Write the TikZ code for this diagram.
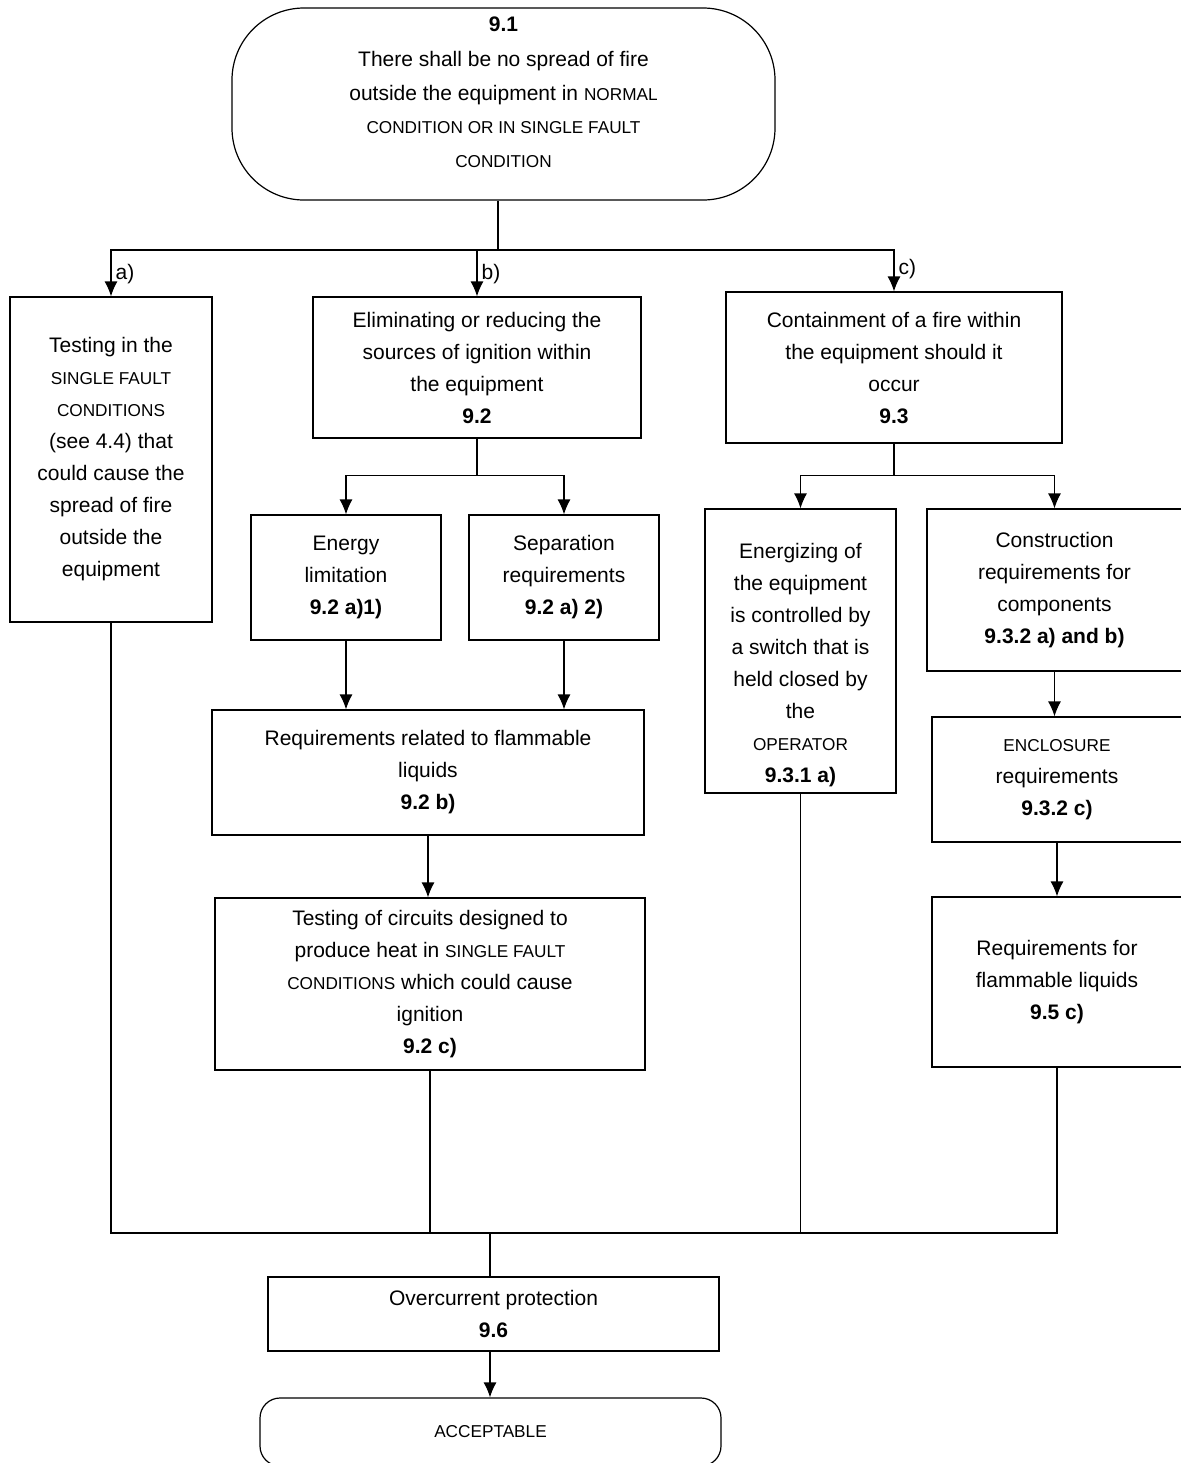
\documentclass[tikz,border=0pt]{standalone}
\usepackage{fontspec}
\setmainfont{Liberation Sans}
\usepackage{tikz}
\usetikzlibrary{arrows.meta,calc}
\tikzset{>={Latex[length=7.5pt,width=6.5pt]}}
\newcommand{\capsz}[1]{{\fontsize{8.6}{16}\selectfont #1}}

\begin{document}
\begin{tikzpicture}[x=0.5pt,y=-0.5pt, line width=0.6pt,
    box/.style={draw, line width=0.6pt, align=center, inner sep=0pt,
                font=\fontsize{10.5}{16}\selectfont},
    rbox/.style={box, rounded corners=#1},
    lbl/.style={font=\fontsize{10.5}{12}\selectfont, inner sep=1pt}]
\useasboundingbox (0,0) rectangle (1181,1463);

% start
\node[rbox=36pt, minimum width=271.5pt, minimum height=96pt,
      font=\fontsize{10.5}{16.8}\selectfont] (top) at (503.5,104)
  {\textbf{9.1}\\[1pt]
   There shall be no spread of fire\\
   outside the equipment in \capsz{NORMAL}\\
   \capsz{CONDITION OR IN SINGLE FAULT}\\
   \capsz{CONDITION}\rule[-12pt]{0pt}{12pt}};

% three ways
\node[box, minimum width=101pt, minimum height=162.5pt] (tstA) at (111,459.5)
  {Testing in the\\ \capsz{SINGLE FAULT}\\ \capsz{CONDITIONS}\\ (see 4.4) that\\
   could cause the\\ spread of fire\\ outside the\\ equipment};
\node[box, minimum width=164pt, minimum height=70.5pt] (elim) at (477,367.5)
  {Eliminating or reducing the\\ sources of ignition within\\ the equipment\\ \textbf{9.2}};
\node[box, minimum width=168pt, minimum height=75.5pt] (cont) at (894,367.5)
  {Containment of a fire within\\ the equipment should it\\ occur\\ \textbf{9.3}};

% under 9.2
\node[box, minimum width=95pt, minimum height=62.5pt] (energy) at (346,577.5)
  {Energy\\ limitation\\ \textbf{9.2 a)1)}};
\node[box, minimum width=95pt, minimum height=62.5pt] (sep) at (564,577.5)
  {Separation\\ requirements\\ \textbf{9.2 a) 2)}};
\node[box, minimum width=216pt, minimum height=62.5pt] (req) at (428,772.5)
  {Requirements related to flammable\\ liquids\\ \textbf{9.2 b)}};
\node[box, minimum width=215pt, minimum height=86pt] (circ) at (430,984)
  {Testing of circuits designed to\\ produce heat in \capsz{SINGLE FAULT}\\
   \capsz{CONDITIONS} which could cause\\ ignition\\ \textbf{9.2 c)}};

% under 9.3
\node[box, minimum width=95.5pt, minimum height=142pt] (ener) at (800.5,651)
  {\rule{0pt}{21.6pt}Energizing of\\ the equipment\\ is controlled by\\ a switch that is\\
   held closed by\\ the\\ \capsz{OPERATOR}\\ \textbf{9.3.1 a)}};
\node[box, minimum width=127.5pt, minimum height=81pt] (constr) at (1054.5,590)
  {Construction\\ requirements for\\ components\\ \textbf{9.3.2 a) and b)}};
\node[box, minimum width=125pt, minimum height=62.5pt] (encl) at (1057,779.5)
  {\capsz{ENCLOSURE}\\ requirements\\ \textbf{9.3.2 c)}};
\node[box, minimum width=125pt, minimum height=85pt] (flam) at (1057,982)
  {Requirements for\\ flammable liquids\\ \textbf{9.5 c)}};

% end
\node[box, minimum width=225.5pt, minimum height=37pt] (over) at (493.5,1314)
  {Overcurrent protection\\ \textbf{9.6}};
\node[rbox=10pt, minimum width=230.5pt, minimum height=34pt] (acc) at (490.5,1432)
  {\capsz{ACCEPTABLE}};

% from 9.1 to a), b), c)
\coordinate (split) at (498,250);
\draw (split |- top.south) -- (split);
\draw[->] (split) -| (tstA.north) node[lbl, anchor=south west, xshift=1pt, yshift=5pt] (la) {a)};
\draw[->] (split) -| (elim.north) node[lbl, anchor=south west, xshift=1pt, yshift=5pt] (lb) {b)};
\draw[->] (split) -| (cont.north) node[lbl, anchor=south west, xshift=1pt, yshift=5pt] (lc) {c)};

% 9.2 branch
\draw (elim.south) -- ++(0,37) coordinate (esplit);
\draw[->] (esplit) -| (energy.north);
\draw[->] (esplit) -| (sep.north);
\draw[->] (energy.south) -- (energy.south |- req.north);
\draw[->] (sep.south) -- (sep.south |- req.north);
\draw[->] (req.south) -- (req.south |- circ.north);

% 9.3 branch
\draw (cont.south) -- ++(0,32) coordinate (csplit);
\draw[->] (csplit) -| (ener.north);
\draw[->] (csplit) -| (constr.north);
\draw[->] (constr.south) -- (constr.south |- encl.north);
\draw[->] (encl) -- (flam);

% everything meets at 9.6
\coordinate (join) at (490,1233);
\draw (tstA.south) |- (join);
\draw (circ.south) |- (join);
\draw (ener.south) |- (join);
\draw (flam.south) |- (join);
\draw (join) -- (join |- over.north);
\draw[->] (join |- over.south) -- (join |- acc.north);
\end{tikzpicture}
\end{document}
